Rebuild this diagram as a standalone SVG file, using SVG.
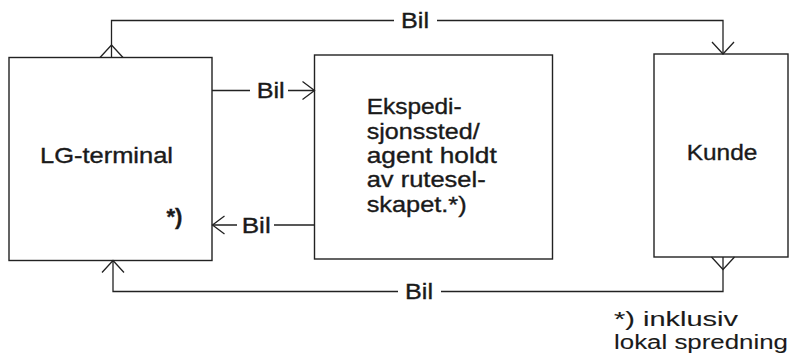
<svg xmlns="http://www.w3.org/2000/svg" width="790" height="358" viewBox="0 0 790 358">
<style>
.box{fill:none;stroke:#222;stroke-width:1.4}
.ln{fill:none;stroke:#222;stroke-width:1.3}
text{font-family:"Liberation Sans",Arial,sans-serif;fill:#1a1a1a;stroke:#1a1a1a;stroke-width:0.35;font-size:21.5px}
.fn{font-size:20px;stroke-width:0.1}
.b{font-weight:bold}
</style>
<defs>
<marker id="arr" markerUnits="userSpaceOnUse" viewBox="-14 -12 16 24" refX="0" refY="0" markerWidth="16" markerHeight="24" orient="auto" overflow="visible">
<path d="M-12,-11 L0,0 L-12,11" fill="none" stroke="#222" stroke-width="1.3"/>
</marker>
<marker id="arrs" markerUnits="userSpaceOnUse" viewBox="-14 -12 16 24" refX="0" refY="0" markerWidth="16" markerHeight="24" orient="auto" overflow="visible">
<path d="M-12,-9 L0,0 L-12,9" fill="none" stroke="#222" stroke-width="1.3"/>
</marker>
<marker id="tri" markerUnits="userSpaceOnUse" viewBox="-2 -13 16 26" refX="0" refY="0" markerWidth="16" markerHeight="26" orient="auto" overflow="visible">
<path d="M0,-11.5 L12.5,0 L0,11.5" fill="none" stroke="#222" stroke-width="1.3"/>
</marker>
</defs>
<g id="lg-terminal">
<rect class="box" x="9" y="57.5" width="203" height="203"/>
<text x="40" y="162.5" textLength="133" lengthAdjust="spacingAndGlyphs">LG-terminal</text>
<text class="b" x="166.5" y="224" textLength="16" lengthAdjust="spacingAndGlyphs">*)</text>
</g>
<g id="ekspedisjonssted">
<rect class="box" x="314.5" y="55" width="238" height="204"/>
<text x="366.7" y="114.3" textLength="95" lengthAdjust="spacingAndGlyphs">Ekspedi-</text>
<text x="366.7" y="138.7" textLength="113" lengthAdjust="spacingAndGlyphs">sjonssted/</text>
<text x="366.7" y="163" textLength="130" lengthAdjust="spacingAndGlyphs">agent holdt</text>
<text x="366.7" y="187.4" textLength="119" lengthAdjust="spacingAndGlyphs">av rutesel-</text>
<text x="366.7" y="211.7" textLength="100" lengthAdjust="spacingAndGlyphs">skapet.*)</text>
</g>
<g id="kunde">
<rect class="box" x="654" y="54" width="134" height="203"/>
<text x="686.7" y="160" textLength="70.6" lengthAdjust="spacingAndGlyphs">Kunde</text>
</g>
<g id="connectors">
<path class="ln" d="M111.5,57.5 V20.5 H394 M437,20.5 H723 V54" marker-start="url(#tri)" marker-end="url(#arr)"/>
<text x="401" y="28" textLength="28" lengthAdjust="spacingAndGlyphs">Bil</text>
<path class="ln" d="M212,90.5 H250 M288,90.5 H314.5" marker-end="url(#arrs)"/>
<text x="256.7" y="98.3" textLength="28" lengthAdjust="spacingAndGlyphs">Bil</text>
<path class="ln" d="M314.5,225 H274 M237,225 H212.5" marker-end="url(#arrs)"/>
<text x="241.7" y="232.5" textLength="29" lengthAdjust="spacingAndGlyphs">Bil</text>
<path class="ln" d="M723,257 V291.5 H441 M398,291.5 H113 V260.5" marker-start="url(#tri)" marker-end="url(#arr)"/>
<text x="405" y="299" textLength="28" lengthAdjust="spacingAndGlyphs">Bil</text>
</g>
<g id="footnote">
<text class="fn" x="614" y="326" textLength="124" lengthAdjust="spacingAndGlyphs">*) inklusiv</text>
<text class="fn" x="614" y="349" textLength="174" lengthAdjust="spacingAndGlyphs">lokal spredning</text>
</g>
</svg>
